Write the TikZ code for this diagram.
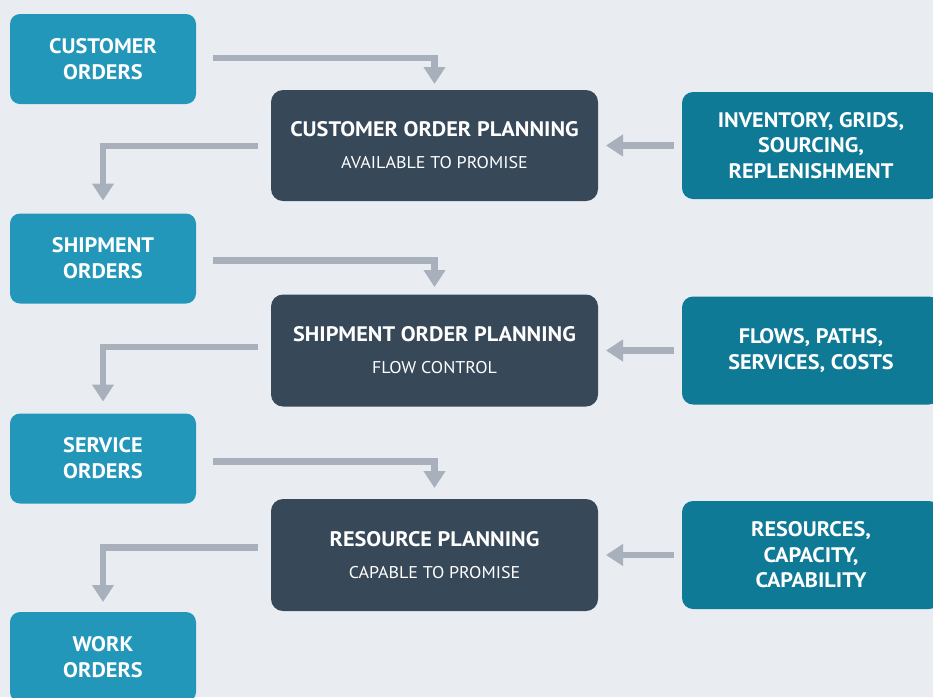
\documentclass[tikz,border=0pt]{standalone}
\usepackage{fontspec}
\setmainfont[FakeStretch=1.06]{PT Sans}
\usetikzlibrary{arrows.meta}
\definecolor{bgc}{HTML}{E9EDF1}
\definecolor{lblue}{HTML}{2397BA}
\definecolor{darkbox}{HTML}{374859}
\definecolor{tealbox}{HTML}{0F7A96}
\definecolor{arrgray}{HTML}{A7B0BB}
\begin{document}
\begin{tikzpicture}[x=1pt,y=-1pt,
  orderbox/.style={fill=lblue, rounded corners=10pt, minimum width=186pt, minimum height=90pt,
    inner sep=0pt, outer sep=0pt, text=white, align=center, font=\fontsize{21}{26}\selectfont\bfseries},
  planbox/.style={fill=darkbox, rounded corners=12pt, minimum width=327pt, minimum height=111pt,
    inner sep=0pt, outer sep=0pt, text=white, align=center, font=\fontsize{21}{26}\selectfont},
  inputbox/.style={fill=tealbox, rounded corners=11pt, minimum width=258pt, minimum height=107pt,
    inner sep=0pt, outer sep=0pt, text=white, align=center, font=\fontsize{21}{25.5}\selectfont\bfseries},
  flowarrow/.style={draw=arrgray, line width=6.5pt, line join=miter,
    -{Triangle[width=21pt,length=17pt]}}
]
\clip (0,0) rectangle (933,697);
\useasboundingbox (0,0) rectangle (933,697);
\fill[bgc] (0,0) rectangle (933,697);

% left order boxes
\node[orderbox] (co) at (103,59) {CUSTOMER\\ORDERS};
\node[orderbox] (so) at (103,258.5) {SHIPMENT\\ORDERS};
\node[orderbox] (sv) at (103,458.5) {SERVICE\\ORDERS};
\node[orderbox] (wo) at (103,657) {WORK\\ORDERS};

% planning boxes
\node[planbox] (cop) at (434.5,145.5) {{\bfseries CUSTOMER ORDER PLANNING}\\[6pt]{\fontsize{17}{20}\selectfont AVAILABLE TO PROMISE}};
\node[planbox, minimum height=112pt] (sop) at (434.5,350.5) {{\bfseries SHIPMENT ORDER PLANNING}\\[6pt]{\fontsize{17}{20}\selectfont FLOW CONTROL}};
\node[planbox, minimum height=112pt] (rp) at (434.5,555) {{\bfseries RESOURCE PLANNING}\\[6pt]{\fontsize{17}{20}\selectfont CAPABLE TO PROMISE}};

% input boxes
\node[inputbox] (inv) at (811,145.5) {INVENTORY, GRIDS,\\SOURCING,\\REPLENISHMENT};
\node[inputbox, minimum height=108pt] (flw) at (811,350.5) {FLOWS, PATHS,\\SERVICES, COSTS};
\node[inputbox, minimum height=108pt] (res) at (811,555) {RESOURCES,\\CAPACITY,\\CAPABILITY};

% arrows: orders -> planning
\draw[flowarrow] ([xshift=17pt,yshift=1pt]co.east) -| ([yshift=6pt]cop.north);
\draw[flowarrow] ([xshift=17pt,yshift=-2pt]so.east) -| ([yshift=7.5pt]sop.north);
\draw[flowarrow] ([xshift=17pt,yshift=-3pt]sv.east) -| ([yshift=11pt]rp.north);

% arrows: planning -> next orders
\draw[flowarrow] ([xshift=-13pt,yshift=-0.5pt]cop.west) -| ([yshift=13pt]so.north);
\draw[flowarrow] ([xshift=-13pt,yshift=3.5pt]sop.west) -| ([yshift=12pt]sv.north);
\draw[flowarrow] ([xshift=-13pt,yshift=7.5pt]rp.west) -| ([yshift=10pt]wo.north);

% arrows: inputs -> planning
\draw[flowarrow] ([xshift=-8pt]inv.west) -- ([xshift=8pt]cop.east);
\draw[flowarrow] ([xshift=-8pt]flw.west) -- ([xshift=8pt]sop.east);
\draw[flowarrow] ([xshift=-8pt]res.west) -- ([xshift=8pt]rp.east);
\end{tikzpicture}
\end{document}
